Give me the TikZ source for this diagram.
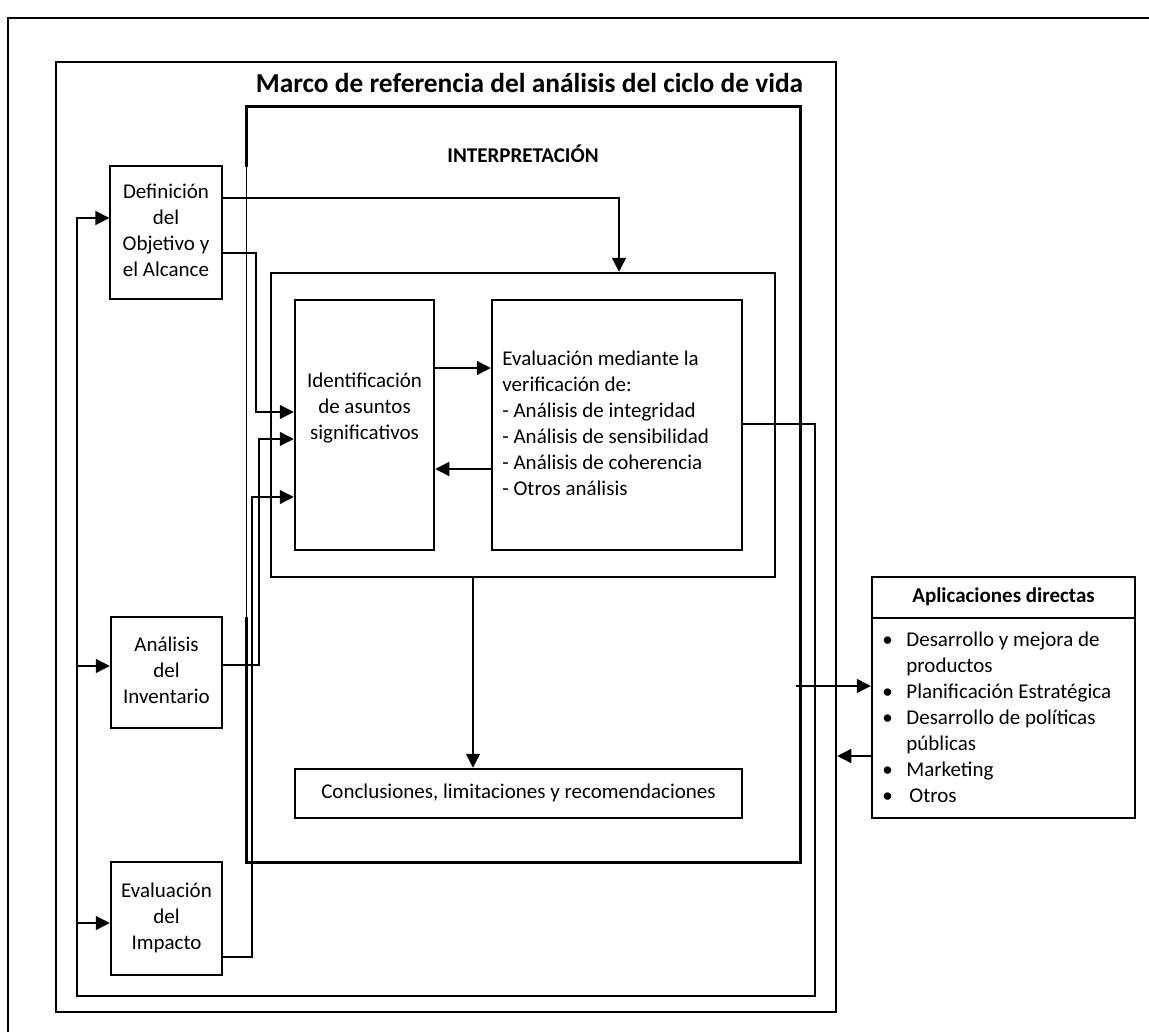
\documentclass[tikz,border=0pt]{standalone}
\usepackage{fontspec}
\setmainfont{Carlito}
\usetikzlibrary{arrows.meta}

% bullet used in the list of direct applications
\newcommand\apbullet{\makebox[12pt][l]{\textbullet}}

\begin{document}
\begin{tikzpicture}[x=0.5pt,y=-0.5pt,
  frame/.style={draw, line width=1.25pt, inner sep=0pt},
  thinbox/.style={draw, line width=0.7pt, inner sep=0pt},
  txt/.style={inner sep=0pt, font=\fontsize{10.5}{13}\selectfont},
  conn/.style={line width=0.7pt},
  arr/.style={conn, -{Triangle[length=7pt,width=7pt]}},
  line join=miter]

\useasboundingbox (0,0) rectangle (1149,1032);

% page frame
\draw[line width=1.25pt] (8,1032) -- (8,18) -- (1149,18);

% life cycle assessment framework
\node[frame, minimum width=390pt, minimum height=475pt] (marco) at (446,537) {};
\node[inner sep=0pt, font=\fontsize{13.7}{16}\selectfont\bfseries] (title) at (529.5,82.5)
  {Marco de referencia del análisis del ciclo de vida};

% interpretation phase
\node[inner sep=0pt, minimum width=276.5pt, minimum height=377.5pt] (interp) at (523.5,484.5) {};
\draw[line width=1.25pt] (interp.west |- 0,167) -- (interp.north west) -- (interp.north east)
  -- (interp.south east) -- (interp.south west) -- (interp.west |- 0,617);
\draw[line width=0.6pt] (interp.west |- 0,167) -- (interp.west |- 0,617);
\node[txt, font=\fontsize{10.5}{13}\selectfont\bfseries] (interptitle) at (523,154) {INTERPRETACIÓN};

\node[frame, minimum width=252pt, minimum height=152pt] (inner) at (523,425) {};
\node[frame, minimum width=69.5pt, minimum height=125pt] (ident) at (364.5,425) {};
\node[txt, align=center] (identtxt) at (364.5,408)
  {\strut Identificación\\\strut de asuntos\\\strut significativos};
\node[frame, minimum width=125pt, minimum height=125pt] (eval) at (617,425) {};
\node[txt, align=left, anchor=west] (evaltxt) at (502,425.7)
  {\strut Evaluación mediante la\\\strut verificación de:\\\strut - Análisis de integridad\\
   \strut - Análisis de sensibilidad\\\strut - Análisis de coherencia\\\strut - Otros análisis};
\node[frame, txt, minimum width=223.5pt, minimum height=24.5pt] (concl) at (518.5,793.5)
  {\strut Conclusiones, limitaciones y recomendaciones};

% phases of the study
\node[thinbox, txt, align=center, minimum width=56pt, minimum height=66.5pt] (def) at (166,232.5)
  {\strut Definición\\\strut del\\\strut Objetivo y\\\strut el Alcance};
\node[frame, txt, align=center, minimum width=55.5pt, minimum height=55.5pt] (inv) at (166.5,672.5)
  {\strut Análisis\\\strut del\\\strut Inventario};
\node[frame, txt, align=center, minimum width=55.5pt, minimum height=56.5pt] (imp) at (166.5,918.5)
  {\strut Evaluación\\\strut del\\\strut Impacto};

% direct applications
\node[frame, txt, minimum width=131.5pt, minimum height=20.5pt, font=\fontsize{10.5}{13}\selectfont\bfseries]
  (aplhead) at (1003.5,597.5) {\strut Aplicaciones directas};
\node[frame, minimum width=131.5pt, minimum height=100pt] (aplbody) at (1003.5,718) {};
\node[txt, align=left, anchor=west] (apltxt) at (882,719.4)
  {\strut\apbullet Desarrollo y mejora de\\
   \strut\hspace*{12pt}productos\\
   \strut\apbullet Planificación Estratégica\\
   \strut\apbullet Desarrollo de políticas\\
   \strut\hspace*{12pt}públicas\\
   \strut\apbullet Marketing\\
   \strut\apbullet\hspace*{1.5pt}Otros};

% phases feeding the interpretation
\draw[arr] (def.east |- 0,198) -| (619,0 |- inner.north);
\draw[arr] (def.east |- 0,253) -- (256,253) |- (ident.west |- 0,412);
\draw[arr] (inv.east |- 0,665) -- (259,665) |- (ident.west |- 0,439);
\draw[arr] (imp.east |- 0,957) -- (252,957) |- (ident.west |- 0,497);

% inside the interpretation
\draw[arr] (ident.east |- 0,368) -- (eval.west |- 0,368);
\draw[arr] (eval.west |- 0,469) -- (ident.east |- 0,469);
\draw[arr] (473,0 |- inner.south) -- (473,0 |- concl.north);

% iterative feedback to the phases
\coordinate (fbtop) at (77,218);
\draw[arr, line width=0.9pt] (eval.east |- 0,424) -- (815,424) -- (815,996) -- (77,996)
  -- (fbtop) -- (def.west |- fbtop);
\draw[arr] (77,666) -- (inv.west |- 0,666);
\draw[arr] (77,923) -- (imp.west |- 0,923);

% link with the direct applications
\coordinate (aplin) at (796,686);
\draw[arr] (aplin) -- (aplbody.west |- aplin);
\draw[arr] (aplbody.west |- 0,756) -- (marco.east |- 0,756);

\end{tikzpicture}
\end{document}
